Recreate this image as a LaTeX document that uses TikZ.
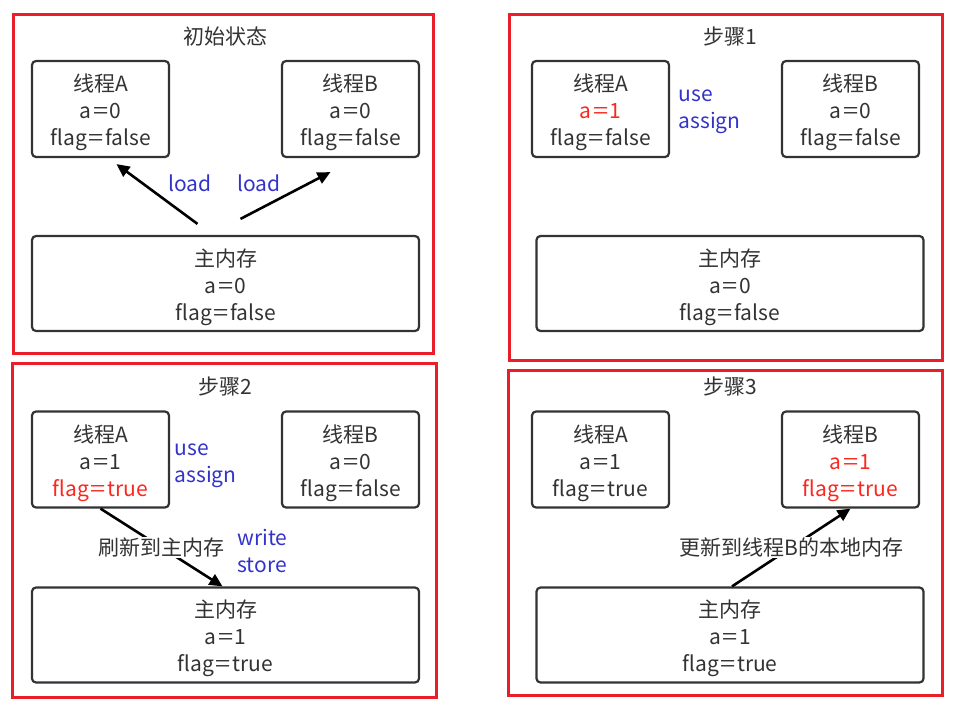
\documentclass[tikz,border=0pt]{standalone}
\usepackage{fontspec}
\setmainfont{Noto Sans CJK SC}
\usepackage{xcolor}
\usepackage{tikz}
\usetikzlibrary{arrows.meta}
\definecolor{frameRed}{RGB}{232,30,40}
\definecolor{boxGray}{RGB}{51,51,51}
\definecolor{opBlue}{RGB}{51,51,204}
\definecolor{valRed}{RGB}{250,40,30}
\newcommand{\eq}{\kern1.5pt\scalebox{1.3}[1]{=}\kern1.5pt}

\begin{document}
\begin{tikzpicture}[x=1pt, y=-1pt,
    frame/.style={draw=frameRed, line width=3pt},
    membox/.style={draw=boxGray, line width=2.2pt, rounded corners=4pt, align=center,
      text=boxGray, font=\fontsize{21}{27}\selectfont,
      text height=76pt, text depth=3pt},
    thread/.style={membox, minimum width=137pt, minimum height=96pt},
    mainmem/.style={membox, minimum width=387pt, minimum height=95pt},
    title/.style={text=boxGray, font=\fontsize{21}{24}\selectfont},
    op/.style={text=opBlue, align=left, font=\fontsize{21}{27}\selectfont},
    flow/.style={draw=black, line width=2.6pt, -{Triangle[length=13pt,width=12pt]}},
    flowlabel/.style={fill=white, text=boxGray, inner sep=1pt, font=\fontsize{21}{24}\selectfont}]
    \useasboundingbox[fill=white] (0,0) rectangle (966,717);

    % Initial state
    \draw[frame] (13,15) rectangle (433,353);
    \node[title] (t0) at (225,36) {初始状态};
    \node[thread] (p0A) at (100.5,109) {线程A\\a\eq0\\flag\eq false};
    \node[thread] (p0B) at (350.5,109) {线程B\\a\eq0\\flag\eq false};
    \node[mainmem] (p0M) at (225.5,283.5) {主内存\\a\eq0\\flag\eq false};
    \draw[flow] ([xshift=-28pt,yshift=11pt]p0M.north) -- ([xshift=16pt,yshift=-6pt]p0A.south);
    \draw[flow] ([xshift=15pt,yshift=16pt]p0M.north) -- ([xshift=-20pt,yshift=-14pt]p0B.south);
    \node[op] (l0A) at (190,183) {load};
    \node[op] (l0B) at (259,183) {load};

    % Step 1
    \draw[frame] (509,15) rectangle (942,360);
    \node[title] (t1) at (730,36) {步骤1};
    \node[thread] (p1A) at (600.5,109) {线程A\\\textcolor{valRed}{a\eq1}\\flag\eq false};
    \node[thread] (p1B) at (850.5,109) {线程B\\a\eq0\\flag\eq false};
    \node[mainmem] (p1M) at (730,283.5) {主内存\\a\eq0\\flag\eq false};
    \node[op, anchor=west] (u1) at (675,112) {use\\assign};

    % Step 2
    \draw[frame] (12,363) rectangle (436,697);
    \node[title] (t2) at (225,386) {步骤2};
    \node[thread] (p2A) at (100.5,459.5) {线程A\\a\eq1\\\textcolor{valRed}{flag\eq true}};
    \node[thread] (p2B) at (350.5,459.5) {线程B\\a\eq0\\flag\eq false};
    \node[mainmem] (p2M) at (225.5,635) {主内存\\a\eq1\\flag\eq true};
    \node[op, anchor=west] (u2) at (171,466) {use\\assign};
    \node[op, anchor=west] (w2) at (234,551) {write\\store};
    \draw[flow] (p2A.south) -- node[flowlabel] {刷新到主内存} ([xshift=-3pt]p2M.north);

    % Step 3
    \draw[frame] (508,370) rectangle (942,695);
    \node[title] (t3) at (730,386) {步骤3};
    \node[thread] (p3A) at (600.5,459.5) {线程A\\a\eq1\\flag\eq true};
    \node[thread] (p3B) at (850.5,459.5) {线程B\\\textcolor{valRed}{a\eq1}\\\textcolor{valRed}{flag\eq true}};
    \node[mainmem] (p3M) at (730,635) {主内存\\a\eq1\\flag\eq true};
    \draw[flow] ([xshift=2pt]p3M.north) -- node[flowlabel] {更新到线程B的本地内存} (p3B.south);
\end{tikzpicture}
\end{document}
